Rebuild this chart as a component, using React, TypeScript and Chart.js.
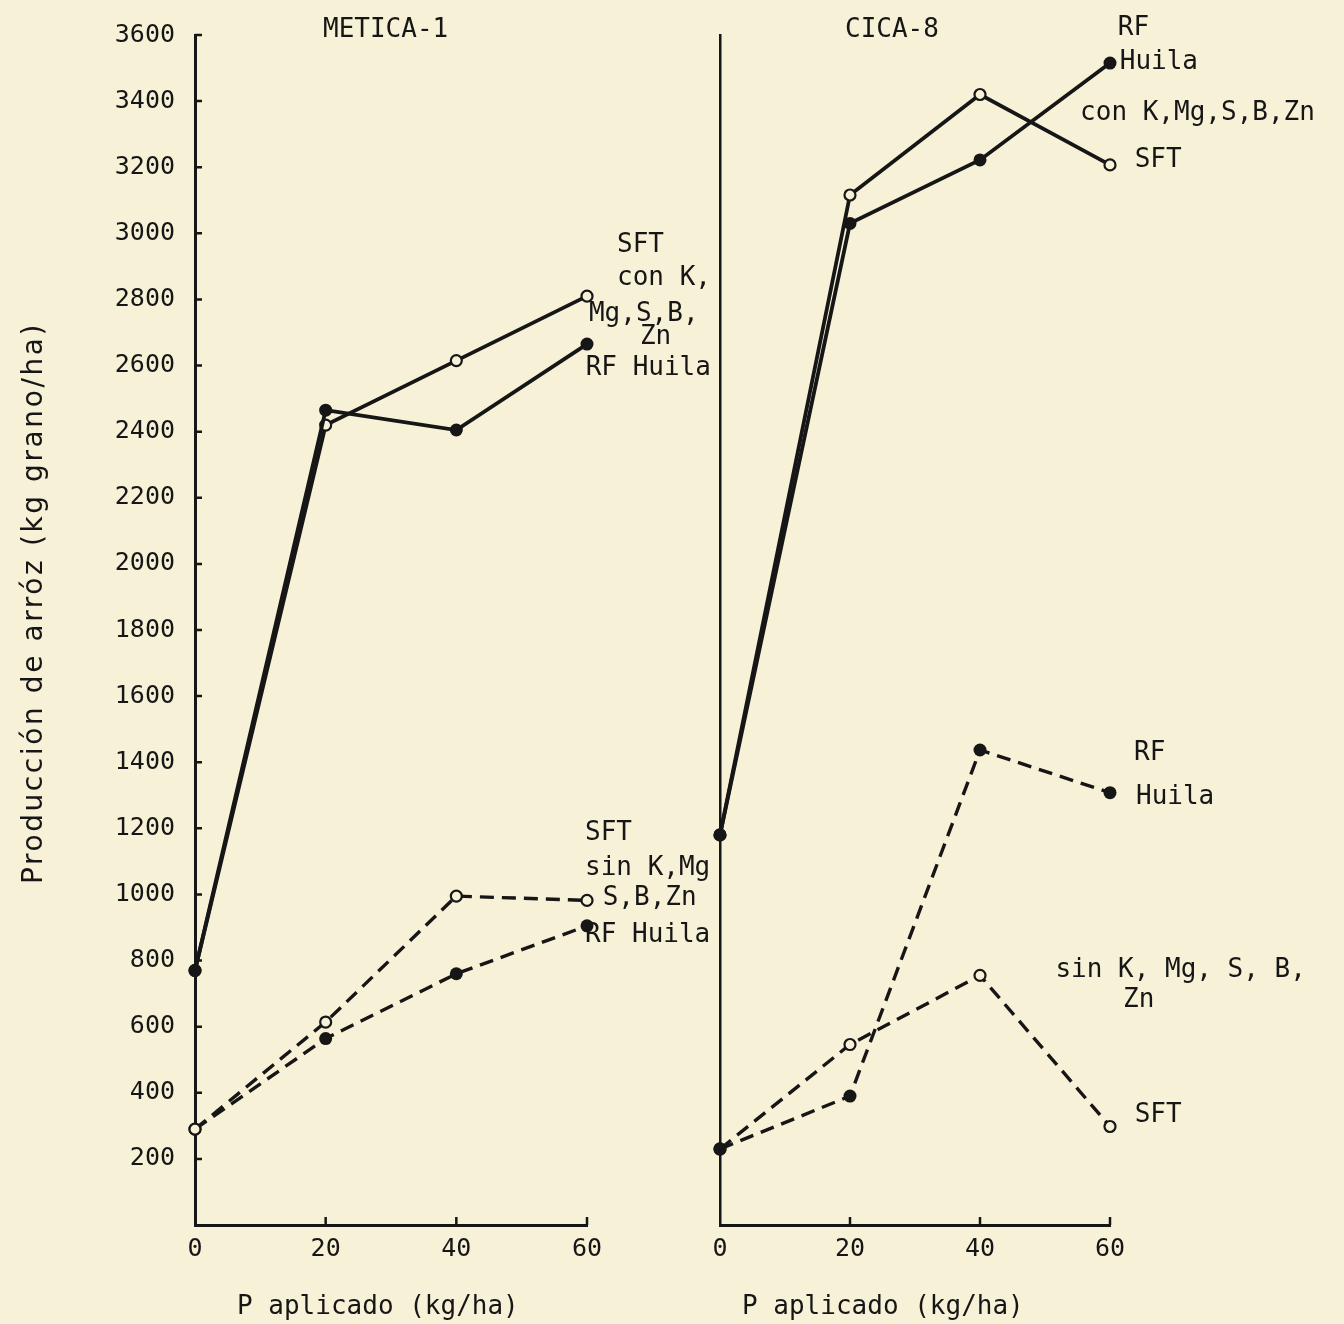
import React, { useEffect, useRef } from "react";
import { Chart, registerables } from "chart.js";

Chart.register(...registerables);

// ---------- data ----------
const doses = [0, 20, 40, 60]; // P aplicado (kg/ha)

// METICA-1
const meticaSftCon = [770, 2420, 2615, 2810];
const meticaRfCon = [770, 2465, 2405, 2665];
const meticaSftSin = [290, 614, 995, 982];
const meticaRfSin = [290, 564, 760, 905];

// CICA-8
const cicaSftCon = [1180, 3116, 3420, 3207];
const cicaRfCon = [1180, 3030, 3222, 3515];
const cicaSftSin = [230, 546, 755, 298];
const cicaRfSin = [230, 390, 1437, 1308];

const yMin = 0;
const yMax = 3600;
const yStep = 200;
const xStep = 20;

const panelTitles = ["METICA-1", "CICA-8"];
const xTitle = "P aplicado (kg/ha)";
const yTitle = "Producción de arróz (kg grano/ha)";

// annotation labels: [text, x (data), y (data)]
const meticaNotes: [string, number, number][] = [
  ["SFT", 64.6, 2965],
  ["con K,", 64.6, 2865],
  ["Mg,S,B,", 60.3, 2756],
  ["Zn", 68.1, 2686],
  ["RF Huila", 59.8, 2593],
  ["SFT", 59.7, 1186],
  ["sin K,Mg", 59.7, 1080],
  ["S,B,Zn", 62.4, 989],
  ["RF Huila", 59.7, 877],
];
const cicaNotes: [string, number, number][] = [
  ["RF", 61.2, 3621],
  ["Huila", 61.5, 3518],
  ["con K,Mg,S,B,Zn", 55.4, 3364],
  ["SFT", 63.8, 3222],
  ["RF", 63.7, 1428],
  ["Huila", 64.0, 1295],
  ["sin K, Mg, S, B,", 51.6, 771],
  ["Zn", 62.0, 681],
  ["SFT", 63.8, 333],
];

// ---------- styles ----------
const INK = "#161616";
const PAPER = "#f7f1d7";
const MONO = "'DejaVu Sans Mono', monospace";
const SANS = "'DejaVu Sans', sans-serif";

const toPts = (arr: number[]) => doses.map((d, i) => ({ x: d, y: arr[i] }));

function series(values: number[], filled: boolean, dashed: boolean) {
  return {
    data: toPts(values),
    borderColor: INK,
    borderWidth: dashed ? 3.4 : 3.8,
    borderDash: dashed ? [14, 8] : [],
    pointRadius: filled ? 6.5 : 5.5,
    pointBackgroundColor: filled ? INK : PAPER,
    pointBorderColor: INK,
    pointBorderWidth: filled ? 0 : 2.2,
    pointStyle: "circle",
    tension: 0,
    fill: false,
    clip: false as const,
  };
}

type PanelCfg = {
  id: string;
  title: string;
  titleOffset: number;
  xTitleOffset: number;
  notes: [string, number, number][];
  showYLabels: boolean;
  yAxisWidth: number;
  padRight: number;
  yBorderWidth: number;
  yTickMarks: boolean;
  datasets: any[];
};

function makePlugin(cfg: PanelCfg) {
  return {
    id: "decor-" + cfg.id,
    afterDraw(chart: any) {
      const ctx = chart.ctx as CanvasRenderingContext2D;
      const area = chart.chartArea;
      const xs = chart.scales.x;
      const ys = chart.scales.y;
      ctx.save();
      ctx.strokeStyle = INK;
      ctx.fillStyle = INK;
      // inner tick marks
      ctx.lineWidth = 2.5;
      ctx.beginPath();
      if (cfg.yTickMarks) {
        for (let v = yStep; v <= yMax; v += yStep) {
          const py = ys.getPixelForValue(v);
          ctx.moveTo(area.left, py);
          ctx.lineTo(area.left + 7, py);
        }
      }
      for (let v = xStep; v <= 60; v += xStep) {
        const px = xs.getPixelForValue(v);
        ctx.moveTo(px, area.bottom);
        ctx.lineTo(px, area.bottom - 8);
      }
      ctx.stroke();

      // panel title
      ctx.font = `26px ${MONO}`;
      ctx.textBaseline = "middle";
      ctx.textAlign = "left";
      ctx.fillText(cfg.title, area.left + cfg.titleOffset, 30);

      // x title
      ctx.fillText(xTitle, area.left + cfg.xTitleOffset, area.bottom + 82);

      // annotations
      for (const [t, x, y] of cfg.notes) {
        ctx.fillText(t, xs.getPixelForValue(x), ys.getPixelForValue(y));
      }

      // y title
      if (cfg.showYLabels) {
        ctx.font = `28px ${SANS}`;
        (ctx as any).letterSpacing = "2.6px";
        ctx.translate(35, (area.top + area.bottom) / 2 - 27);
        ctx.rotate(-Math.PI / 2);
        ctx.textAlign = "center";
        ctx.fillText(yTitle, 0, 0);
      }
      ctx.restore();
    },
  };
}

function Panel({ cfg, left, width }: { cfg: PanelCfg; left: number; width: number }) {
  const ref = useRef<HTMLCanvasElement>(null);
  useEffect(() => {
    if (!ref.current) return;
    const chart = new Chart(ref.current, {
      type: "line",
      data: { datasets: cfg.datasets },
      options: {
        responsive: false,
        animation: false,
        events: [],
        layout: { padding: { top: 35, right: cfg.padRight, left: 0, bottom: 0 } },
        plugins: { legend: { display: false }, tooltip: { enabled: false }, title: { display: false } },
        scales: {
          x: {
            type: "linear",
            min: 0,
            max: 60,
            ticks: {
              stepSize: xStep,
              color: INK,
              font: { family: MONO, size: 25 },
              padding: 9,
              maxRotation: 0,
            },
            grid: { display: true, drawOnChartArea: false, drawTicks: false },
            border: { display: true, color: INK, width: 3 },
            afterFit: (s: any) => {
              s.height = 99;
            },
          },
          y: {
            type: "linear",
            min: yMin,
            max: yMax,
            ticks: {
              display: cfg.showYLabels,
              stepSize: yStep,
              color: INK,
              font: { family: MONO, size: 25 },
              padding: 20,
              callback: (v: any) => (Number(v) === 0 ? "" : String(v)),
            },
            grid: { display: true, drawOnChartArea: false, drawTicks: false },
            border: { display: true, color: INK, width: cfg.yBorderWidth },
            afterFit: (s: any) => {
              s.width = cfg.yAxisWidth;
            },
          },
        },
      },
      plugins: [makePlugin(cfg)],
    } as any);
    return () => chart.destroy();
  }, [cfg]);
  return (
    <canvas
      ref={ref}
      width={width}
      height={1324}
      style={{ position: "absolute", left, top: 0, width, height: 1324 }}
    />
  );
}

const leftCfg: PanelCfg = {
  id: "metica",
  title: panelTitles[0],
  titleOffset: 128,
  xTitleOffset: 42,
  notes: meticaNotes,
  showYLabels: true,
  yAxisWidth: 195,
  padRight: 133,
  yBorderWidth: 3,
  yTickMarks: true,
  datasets: [
    series(meticaRfCon, true, false),
    series(meticaSftCon, false, false),
    series(meticaSftSin, false, true),
    series(meticaRfSin, true, true),
  ],
};

const rightCfg: PanelCfg = {
  id: "cica",
  title: panelTitles[1],
  titleOffset: 125,
  xTitleOffset: 22,
  notes: cicaNotes,
  showYLabels: false,
  yAxisWidth: 60,
  padRight: 234,
  yBorderWidth: 2.5,
  yTickMarks: false,
  datasets: [
    series(cicaRfCon, true, false),
    series(cicaSftCon, false, false),
    series(cicaRfSin, true, true),
    series(cicaSftSin, false, true),
  ],
};

export default function App() {
  return (
    <div
      style={{
        position: "absolute",
        left: 0,
        top: 0,
        width: 1344,
        height: 1324,
        background: PAPER,
        overflow: "hidden",
      }}
    >
      <Panel cfg={leftCfg} left={0} width={720} />
      <Panel cfg={rightCfg} left={660} width={684} />
    </div>
  );
}
